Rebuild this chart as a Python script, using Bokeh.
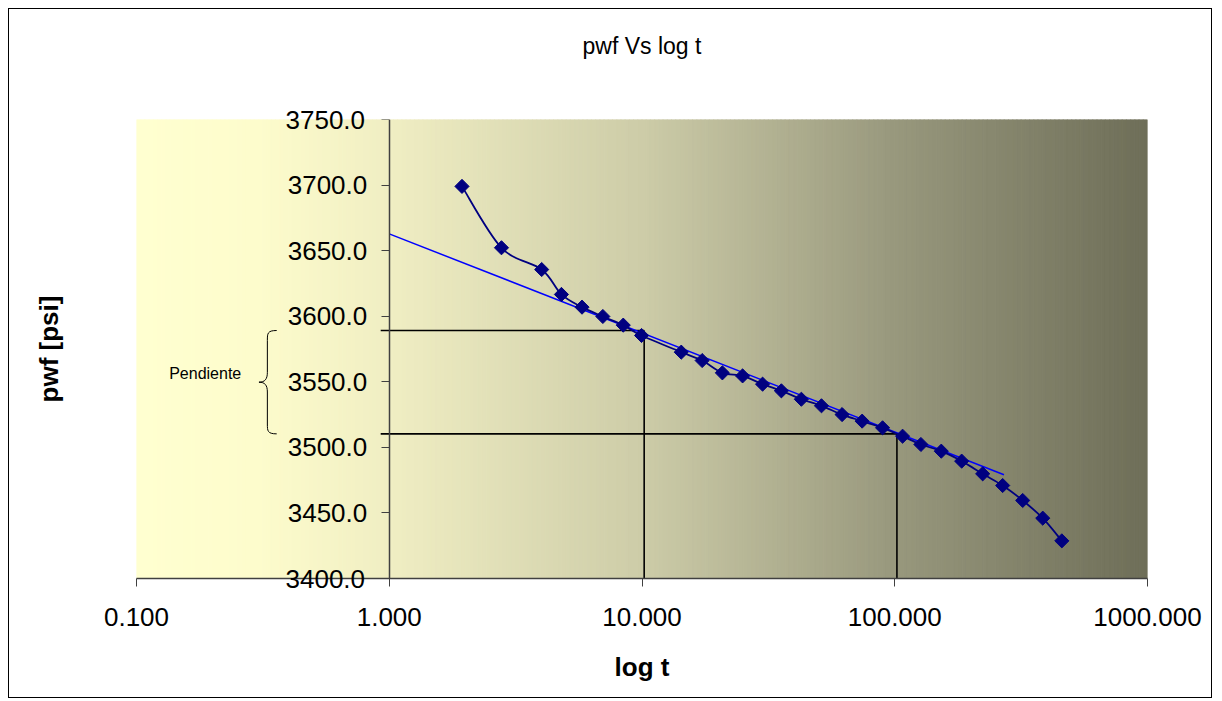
import numpy as np
from bokeh.plotting import figure
from bokeh.models import (Range1d, FixedTicker, PrintfTickFormatter, Title, Label,
                          LinearAxis, LogAxis)
from bokeh.embed import file_html
from bokeh.resources import INLINE

# ---------------- data ----------------
t_vals = [1.94, 2.78, 4.01, 4.80, 5.79, 7.00, 8.43, 9.96, 14.3, 17.3, 20.8, 25.0,
          30.0, 35.6, 42.7, 51.3, 61.9, 74.3, 89.5, 107.4, 126.9, 152.8, 184.0,
          222.8, 267.3, 320.8, 385.1, 458.2]
pwf_vals = [3699.0, 3652.2, 3635.6, 3616.6, 3606.9, 3599.8, 3593.2, 3585.3, 3572.6,
            3566.2, 3556.8, 3554.5, 3548.2, 3543.1, 3536.7, 3531.7, 3525.0, 3520.0,
            3514.9, 3508.5, 3502.2, 3497.1, 3489.5, 3479.8, 3470.9, 3459.5, 3446.0,
            3428.7]

trend_t = [1.0, 270.5]
trend_p = [3662.8, 3479.1]

ref_t = [10.2, 102.0]          # time of the two slope reference points
ref_p = [3589.1, 3510.3]       # pressure of the two slope reference points

x_ticks = [0.1, 1, 10, 100, 1000]
y_ticks = [3400, 3450, 3500, 3550, 3600, 3650, 3700, 3750]
y_tick_labels = ["3400.0", "3450.0", "3500.0", "3550.0", "3600.0", "3650.0",
                 "3700.0", "3750.0"]

FONT = "Liberation Sans"

p = figure(width=1204, height=690, x_axis_type="log",
           x_range=Range1d(0.1, 1000), y_range=Range1d(3400, 3750),
           output_backend="svg", toolbar_location=None,
           min_border_left=127, min_border_right=66,
           min_border_top=110, min_border_bottom=121,
           background_fill_color="white", border_fill_color="white",
           outline_line_color=None,
           styles={"border": "1px solid black", "margin-left": "8px",
                   "margin-top": "8px"})
p.grid.visible = False
p.title.text = ""

# ---------------- gradient plot-area background ----------------
stops_f = [0.0, 0.12, 0.25, 0.5, 0.75, 1.0]
stops_c = [(255, 255, 208), (253, 252, 204), (240, 238, 195), (205, 204, 168),
           (152, 152, 125), (110, 110, 88)]
N = 240
edges = np.linspace(-1, 3, N + 1)
cols = []
for i in range(N):
    f = (i + 0.5) / N
    rgb = [int(round(np.interp(f, stops_f, [c[k] for c in stops_c]))) for k in range(3)]
    cols.append("#%02x%02x%02x" % tuple(rgb))
p.quad(left=10 ** edges[:-1], right=10 ** edges[1:], bottom=3400, top=3750,
       fill_color=cols, line_color=cols, line_width=1)

# ---------------- slope reference lines ----------------
x_start = 0.925
for rt, rp in zip(ref_t, ref_p):
    p.line([x_start, rt], [rp, rp], line_color="black", line_width=1.6)
    p.line([rt, rt], [rp, 3400], line_color="black", line_width=1.6)

# ---------------- brace + label ----------------
lx_r, lx_m, lx_t = -0.4453, -0.4822, -0.5155
top, bot = ref_p[0], ref_p[1]
mid = (top + bot) / 2
r = 7.5
bx0 = [lx_r, lx_m, lx_r, lx_m]
by0 = [top, mid + r, bot, mid - r]
bx1 = [lx_m, lx_t, lx_m, lx_t]
by1 = [top - r, mid, bot + r, mid]
bcx0 = [lx_m, lx_m, lx_m, lx_m]
bcy0 = [top, mid + 0.3 * r, bot, mid - 0.3 * r]
bcx1 = [lx_m, lx_m + 0.3 * (lx_t - lx_m), lx_m, lx_m + 0.3 * (lx_t - lx_m)]
bcy1 = [top - 0.3 * r, mid, bot + 0.3 * r, mid]
p.bezier(x0=[10 ** v for v in bx0], y0=by0, x1=[10 ** v for v in bx1], y1=by1,
         cx0=[10 ** v for v in bcx0], cy0=bcy0, cx1=[10 ** v for v in bcx1], cy1=bcy1,
         line_color="black", line_width=1)
p.line([10 ** lx_m, 10 ** lx_m], [top - r, mid + r], line_color="black", line_width=1)
p.line([10 ** lx_m, 10 ** lx_m], [mid - r, bot + r], line_color="black", line_width=1)
p.add_layout(Label(x=0.187, y=3556, text="Pendiente", text_align="center",
                   text_baseline="middle", text_font=FONT, text_font_size="16px",
                   text_color="black"))

# ---------------- trend line ----------------
p.line(trend_t, trend_p, line_color="#0000FF", line_width=1.5)

# ---------------- smoothed data line ----------------
lx = np.log10(np.array(t_vals))
py = np.array(pwf_vals)
n = len(lx)
x0, y0, x1, y1, cx0, cy0, cx1, cy1 = [], [], [], [], [], [], [], []
for i in range(n - 1):
    a = max(i - 1, 0)
    d = min(i + 2, n - 1)
    c1x = lx[i] + (lx[i + 1] - lx[a]) / 6
    c1y = py[i] + (py[i + 1] - py[a]) / 6
    c2x = lx[i + 1] - (lx[d] - lx[i]) / 6
    c2y = py[i + 1] - (py[d] - py[i]) / 6
    x0.append(10 ** lx[i]); y0.append(py[i])
    x1.append(10 ** lx[i + 1]); y1.append(py[i + 1])
    cx0.append(10 ** c1x); cy0.append(c1y)
    cx1.append(10 ** c2x); cy1.append(c2y)
p.bezier(x0=x0, y0=y0, x1=x1, y1=y1, cx0=cx0, cy0=cy0, cx1=cx1, cy1=cy1,
         line_color="#000080", line_width=1.8)
p.scatter(t_vals, pwf_vals, marker="square", angle=np.pi / 4, size=10,
          fill_color="#000080", line_color="#000080")

# ---------------- x axis ----------------
xa = p.xaxis[0]
xa.ticker = FixedTicker(ticks=x_ticks)
xa.formatter = PrintfTickFormatter(format="%.3f")
xa.axis_label = "log t"
xa.axis_label_text_font = FONT
xa.axis_label_text_font_size = "26px"
xa.axis_label_text_font_style = "bold"
xa.axis_label_text_color = "black"
xa.axis_label_standoff = 23
xa.major_label_text_font = FONT
xa.major_label_text_font_size = "26px"
xa.major_label_text_color = "black"
xa.major_label_standoff = 21
xa.major_tick_out = 8
xa.major_tick_in = 0
xa.minor_tick_line_color = None
xa.axis_line_color = "#404040"
xa.axis_line_width = 1.5
xa.major_tick_line_color = "#404040"

# ---------------- y axis title (carried by the default left axis) ----------------
yt = p.yaxis[0]
yt.ticker = FixedTicker(ticks=[])
yt.axis_line_color = None
yt.major_tick_line_color = None
yt.minor_tick_line_color = None
yt.major_tick_out = 0
yt.major_tick_in = 0
yt.major_label_standoff = 0
yt.axis_label = "pwf [psi]"
yt.axis_label_text_font = FONT
yt.axis_label_text_font_size = "26px"
yt.axis_label_text_font_style = "bold"
yt.axis_label_text_color = "black"
yt.axis_label_standoff = 73

# ---------------- y axis crossing at t = 1 ----------------
ya = LinearAxis(fixed_location=1.0, ticker=FixedTicker(ticks=y_ticks),
                major_label_text_color=None, major_tick_out=8, major_tick_in=0,
                minor_tick_line_color=None, axis_line_color="#404040",
                axis_line_width=1.5, major_tick_line_color="#404040")
p.add_layout(ya, "left")

for yv, lab in zip(y_ticks[1:-1], y_tick_labels[1:-1]):
    p.add_layout(Label(x=1.0, y=yv, text=lab, x_offset=-22, text_align="right",
                       text_baseline="middle", text_font=FONT,
                       text_font_size="26px", text_color="black"))

# end labels straddle the frame edge: carried by zero-size titles in the side panels
t_top = Title(text=y_tick_labels[-1], align="left", offset=149, vertical_align="middle",
              standoff=-31, text_font=FONT, text_font_size="26px",
              text_font_style="normal", text_color="black")
t_bot = Title(text=y_tick_labels[0], align="left", offset=149, vertical_align="middle",
              standoff=-31, text_font=FONT, text_font_size="26px",
              text_font_style="normal", text_color="black")

# chart title carried by an empty axis above
ta = LogAxis(ticker=FixedTicker(ticks=[]), axis_line_color=None,
             major_tick_line_color=None, minor_tick_line_color=None,
             major_tick_out=0, major_tick_in=0, major_label_standoff=0,
             axis_label="pwf Vs log t", axis_label_text_font=FONT,
             axis_label_text_font_size="23px", axis_label_text_font_style="normal",
             axis_label_text_color="black", axis_label_standoff=61)

p.above = [t_top, ta]
p.below = [t_bot] + list(p.below)

open("out.html", "w").write(file_html(p, INLINE))
